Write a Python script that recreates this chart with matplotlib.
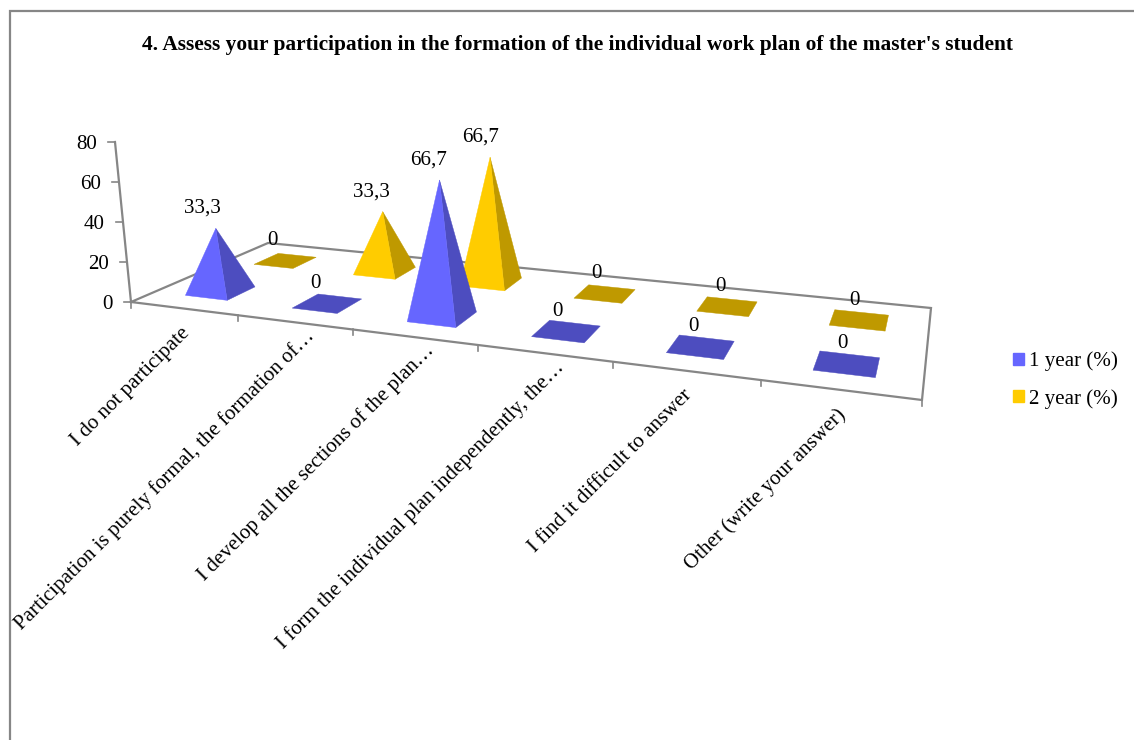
import numpy as np
import matplotlib
matplotlib.use("Agg")
import matplotlib.pyplot as plt
from matplotlib.patches import Polygon, Patch

categories = ["I do not participate",
              "Participation is purely formal, the formation of…",
              "I develop all the sections of the plan…",
              "I form the individual plan independently, the…",
              "I find it difficult to answer",
              "Other (write your answer)"]
year1 = [33.3, 0, 66.7, 0, 0, 0]
year2 = [0, 33.3, 66.7, 0, 0, 0]
value_labels1 = ["33,3", "0", "66,7", "0", "0", "0"]
value_labels2 = ["0", "33,3", "66,7", "0", "0", "0"]
series_names = ["1 year (%)", "2 year (%)"]
y_ticks = [0, 20, 40, 60, 80]
title = "4. Assess your participation in the formation of the individual work plan of the master's student"

GRAY = "#868686"
BLUE, BLUE_D = "#6666FF", "#4D4DBF"
GOLD, GOLD_D = "#FFCC00", "#BF9900"
FS = 15.1
plt.rcParams["font.family"] = ["Liberation Serif", "DejaVu Serif"]

fig = plt.figure(figsize=(11.34, 7.40), dpi=100)
ax = fig.add_axes([0, 0, 1, 1])
ax.set_xlim(0, 1134)
ax.set_ylim(740, 0)
ax.axis("off")

# perspective calibration of the 3-D box (floor corners in pixels)
src = [(0, 0), (6, 0), (6, 2), (0, 2)]
dst = [(131, 302), (922, 400), (931, 308), (268, 243)]
A, b = [], []
for (u, v), (x, y) in zip(src, dst):
    A.append([u, v, 1, 0, 0, 0, -u * x, -v * x]); b.append(x)
    A.append([0, 0, 0, u, v, 1, -u * y, -v * y]); b.append(y)
H = np.append(np.linalg.solve(np.array(A, float), np.array(b, float)), 1).reshape(3, 3)
VP = np.array([520.0, 4192.0, 1.0])   # vanishing point of the vertical direction

def project(u, v, h=0.0, k=0.0):
    p = H @ np.array([u, v, 1.0]) + h * k * VP
    return p[0] / p[2], p[1] / p[2]

# scale of the value direction: 66.7 at the tallest front pyramid peaks at y=180
p0 = H @ np.array([3 - 0.5, 0.5, 1.0])
target_y = 180.0
K = (target_y * p0[2] - p0[1]) / (66.7 * (VP[1] - target_y))

# frame of the picture
ax.plot([10, 10, 1134], [740, 11, 11], color=GRAY, lw=1.6, solid_joinstyle="miter", zorder=1)
# floor outline
box = [project(*c) for c in [(0, 0), (0, 2), (6, 2), (6, 0), (0, 0)]]
ax.plot(*zip(*box), color=GRAY, lw=1.6, zorder=2, solid_joinstyle="miter")
# category ticks
for i in range(len(categories) + 1):
    x, y = project(i, 0)
    ax.plot([x, x], [y, y + 6], color=GRAY, lw=1.2, zorder=2)
# value axis
ax0, ax1 = np.array([131.0, 302.0]), np.array([115.0, 142.0])
ax.plot([ax0[0], ax1[0]], [ax0[1], ax1[1]], color=GRAY, lw=1.6, zorder=2)
for t in y_ticks:
    x, y = ax0 + (ax1 - ax0) * t / y_ticks[-1]
    ax.plot([x - 7, x], [y, y], color=GRAY, lw=1.2, zorder=2)
    ax.text(x - 18, y, str(t), ha="right", va="center_baseline", fontsize=FS, color="black", zorder=6)

def pyramid(i, s, value, front, side, label, z):
    u0, u1 = i + 0.3, i + 0.7
    v0, v1 = s + 0.3, s + 0.7
    fl, fr = project(u0, v0), project(u1, v0)
    bl, br = project(u0, v1), project(u1, v1)
    apex = project((u0 + u1) / 2, (v0 + v1) / 2, value, K)
    if value == 0:
        ax.add_patch(Polygon([fl, fr, br, bl], closed=True, fc=side, ec=side, lw=0.3, zorder=z))
    else:
        ax.add_patch(Polygon([fr, br, apex], closed=True, fc=side, ec=side, lw=0.3, zorder=z))
        ax.add_patch(Polygon([fl, fr, apex], closed=True, fc=front, ec=front, lw=0.3, zorder=z + 0.1))
    dx = -14 + 0.0143 * (apex[0] - 200)
    ax.text(apex[0] + dx, apex[1] - 20, label, ha="center", va="center", fontsize=FS, color="black", zorder=6)

for i, (val, lab) in enumerate(zip(year2, value_labels2)):
    pyramid(i, 1, val, GOLD, GOLD_D, lab, 3 + i * 0.01)
for i, (val, lab) in enumerate(zip(year1, value_labels1)):
    pyramid(i, 0, val, BLUE, BLUE_D, lab, 4 + i * 0.01)

# category labels
for i, cat in enumerate(categories):
    x, y = project(i + 0.5, 0)
    ox, oy = (17, 11) if cat.endswith("…") else (4, 22)
    ax.text(x + ox, y + oy, cat, rotation=45, rotation_mode="anchor", ha="right", va="center",
            fontsize=FS, color="black", zorder=6)

ax.text(577, 45, title, ha="center", va="center", fontsize=15.4, fontweight="bold", color="black")

handles = [Patch(fc=BLUE, ec=BLUE), Patch(fc=GOLD, ec=GOLD)]
ax.legend(handles, series_names, loc="center left", bbox_to_anchor=(1013 / 1134, 1 - 380 / 740),
          frameon=False, fontsize=FS, handlelength=0.52, handleheight=0.52, handletextpad=0.24,
          labelspacing=0.85, borderpad=0, borderaxespad=0)

fig.savefig("out.png", dpi=100)
